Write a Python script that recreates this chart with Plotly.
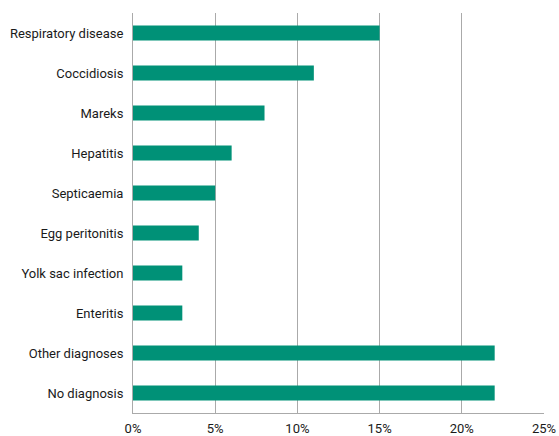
import plotly.graph_objects as go

diagnoses = ["Respiratory disease", "Coccidiosis", "Mareks", "Hepatitis", "Septicaemia",
             "Egg peritonitis", "Yolk sac infection", "Enteritis", "Other diagnoses", "No diagnosis"]
share = [15, 11, 8, 6, 5, 4, 3, 3, 22, 22]
x_ticks = [0, 5, 10, 15, 20, 25]
x_tick_labels = ["0%", "5%", "10%", "15%", "20%", "25%"]

fig = go.Figure(go.Bar(
    x=share, y=diagnoses, orientation="h",
    marker=dict(color="#009177", line=dict(width=0)),
))

fig.update_layout(
    width=559, height=436,
    margin=dict(l=133, r=15, t=13, b=23),
    plot_bgcolor="white", paper_bgcolor="white",
    bargap=0.62,
    showlegend=False,
    font=dict(family="Roboto, sans-serif", size=13, color="#1a1a1a"),
)
fig.update_xaxes(
    range=[0, 25], tickvals=x_ticks, ticktext=x_tick_labels,
    showgrid=True, gridcolor="#aaaaaa", gridwidth=1,
    showline=True, linecolor="#aaaaaa", linewidth=1,
    ticks="outside", ticklen=3, tickcolor="rgba(0,0,0,0)",
    zeroline=False, automargin=False,
)
fig.update_yaxes(
    autorange="reversed",
    showline=True, linecolor="#aaaaaa", linewidth=1,
    ticks="outside", ticklen=6, tickcolor="rgba(0,0,0,0)",
    automargin=False,
)

# the page's default body margin would shift the chart by 8px
fig.write_html("out.html", config={"displayModeBar": False},
               post_script="document.body.style.margin='0';")
